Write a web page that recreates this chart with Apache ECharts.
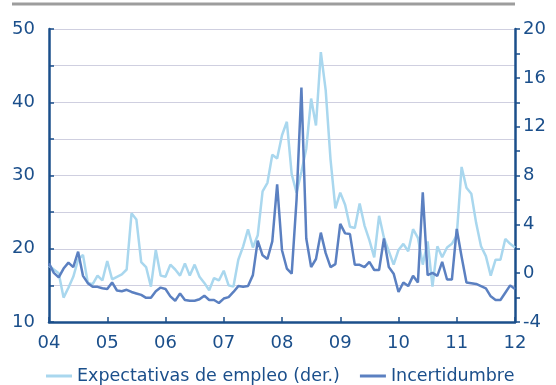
<!DOCTYPE html>
<html>
<head>
<meta charset="utf-8">
<script src="https://cdn.jsdelivr.net/npm/echarts@6/dist/echarts.min.js"></script>
<style>
  html, body { margin: 0; padding: 0; background: #ffffff; }
  #chart { width: 556px; height: 385px; }
</style>
</head>
<body>
<div id="chart"></div>
<script>
// Monthly observations, January 2004 to January 2012
const startYear = 2004;
const yearTicks = ['04', '05', '06', '07', '08', '09', '10', '11', '12'];

// Expectativas de empleo (right axis)
const expectativas = [
  0.6, 0.3, 0.0, -2.0, -1.2, -0.3, 1.1, 1.5, -0.8, -0.9, -0.2, -0.6,
  1.0, -0.5, -0.3, -0.1, 0.3, 4.9, 4.4, 0.9, 0.5, -1.1, 1.9, -0.2,
  -0.3, 0.7, 0.3, -0.2, 0.8, -0.2, 0.7, -0.3, -0.8, -1.4, -0.4, -0.6,
  0.2, -1.0, -1.1, 1.1, 2.2, 3.6, 2.1, 3.1, 6.7, 7.4, 9.7, 9.4,
  11.3, 12.4, 8.1, 6.6, 8.3, 10.2, 14.3, 12.1, 18.1, 15.0, 9.3, 5.3,
  6.6, 5.6, 3.8, 3.7, 5.7, 3.9, 2.7, 1.3, 4.7, 2.9, 1.8, 0.7,
  1.9, 2.4, 1.8, 3.6, 2.9, 0.7, 2.6, -1.1, 2.2, 1.3, 2.1, 2.4,
  3.1, 8.7, 7.0, 6.5, 4.1, 2.2, 1.4, -0.2, 1.1, 1.1, 2.8, 2.4,
  2.1
];

// Incertidumbre (left axis)
const incertidumbre = [
  18.0, 16.7, 16.1, 17.3, 18.1, 17.5, 19.6, 16.3, 15.3, 14.8, 14.8, 14.6,
  14.5, 15.4, 14.3, 14.2, 14.4, 14.1, 13.9, 13.7, 13.3, 13.3, 14.2, 14.7,
  14.5, 13.5, 12.9, 13.9, 13.0, 12.9, 12.9, 13.1, 13.6, 13.0, 13.0, 12.6,
  13.2, 13.4, 14.1, 14.9, 14.8, 14.9, 16.4, 21.1, 19.1, 18.6, 21.0, 28.8,
  19.8, 17.3, 16.6, 26.7, 42.0, 21.4, 17.5, 18.6, 22.2, 19.4, 17.5, 17.9,
  23.4, 22.1, 22.0, 17.8, 17.8, 17.5, 18.2, 17.1, 17.1, 21.4, 17.5, 16.6,
  14.1, 15.4, 14.9, 16.3, 15.4, 27.7, 16.4, 16.7, 16.3, 18.2, 15.8, 15.8,
  22.7, 18.9, 15.4, 15.3, 15.2, 14.9, 14.6, 13.5, 13.0, 13.0, 14.0, 15.0,
  14.5
];

const seriesNames = ['Expectativas de empleo (der.)', 'Incertidumbre'];

const monthX = i => startYear + i / 12;
const toPairs = arr => arr.map((v, i) => [monthX(i), v]);

const navy = '#1b4f8b';
const lightBlue = '#a9d7ee';
const midBlue = '#5b80c1';
const gridColor = '#cfcfe0';
const fontFamily = '"DejaVu Sans", sans-serif';

const chart = echarts.init(document.getElementById('chart'), null, { renderer: 'canvas' });

chart.setOption({
  animation: false,
  backgroundColor: '#ffffff',
  textStyle: { fontFamily: fontFamily },
  graphic: [{
    type: 'line',
    shape: { x1: 12, y1: 4, x2: 515, y2: 4 },
    style: { stroke: '#9d9d9d', lineWidth: 3 }
  }],
  grid: { left: 49, right: 41, top: 29, bottom: 63 },
  legend: {
    data: seriesNames,
    left: 41,
    top: 362,
    itemWidth: 26,
    itemHeight: 3,
    itemGap: 20,
    icon: 'rect',
    textStyle: { color: navy, fontSize: 17.5, fontFamily: fontFamily }
  },
  xAxis: {
    type: 'value',
    min: 2004,
    max: 2012,
    interval: 1,
    axisLine: { onZero: false, lineStyle: { color: navy, width: 2.5 } },
    axisTick: { inside: true, length: 5, lineStyle: { color: navy, width: 1.5 } },
    axisLabel: {
      color: navy, fontSize: 18, margin: 12,
      formatter: v => yearTicks[Math.round(v - startYear)]
    },
    splitLine: { show: false }
  },
  yAxis: [{
    type: 'value',
    min: 10,
    max: 50,
    interval: 10,
    position: 'left',
    axisLine: { show: true, onZero: false, lineStyle: { color: navy, width: 2.5 } },
    axisTick: { show: true, inside: true, length: 5, lineStyle: { color: navy, width: 1.5 } },
    minorTick: { show: true, splitNumber: 2, length: 5, lineStyle: { color: navy, width: 1.5 } },
    axisLabel: { color: navy, fontSize: 18, margin: 14 },
    splitLine: { show: true, lineStyle: { color: gridColor, width: 1 } },
    minorSplitLine: { show: true, lineStyle: { color: gridColor, width: 1 } }
  }, {
    type: 'value',
    min: -4,
    max: 20,
    interval: 4,
    position: 'right',
    axisLine: { show: true, onZero: false, lineStyle: { color: navy, width: 2.5 } },
    axisTick: { show: true, inside: false, length: 5, lineStyle: { color: navy, width: 1.5 } },
    minorTick: { show: true, splitNumber: 2, length: 5, lineStyle: { color: navy, width: 1.5 } },
    axisLabel: { color: navy, fontSize: 18, margin: 8 },
    splitLine: { show: false }
  }],
  series: [{
    name: seriesNames[0],
    type: 'line',
    yAxisIndex: 1,
    data: toPairs(expectativas),
    showSymbol: false,
    symbol: 'none',
    color: lightBlue,
    lineStyle: { color: lightBlue, width: 2.5 },
    z: 2
  }, {
    name: seriesNames[1],
    type: 'line',
    yAxisIndex: 0,
    data: toPairs(incertidumbre),
    showSymbol: false,
    symbol: 'none',
    color: midBlue,
    lineStyle: { color: midBlue, width: 2.5 },
    z: 3
  }]
});
</script>
</body>
</html>
